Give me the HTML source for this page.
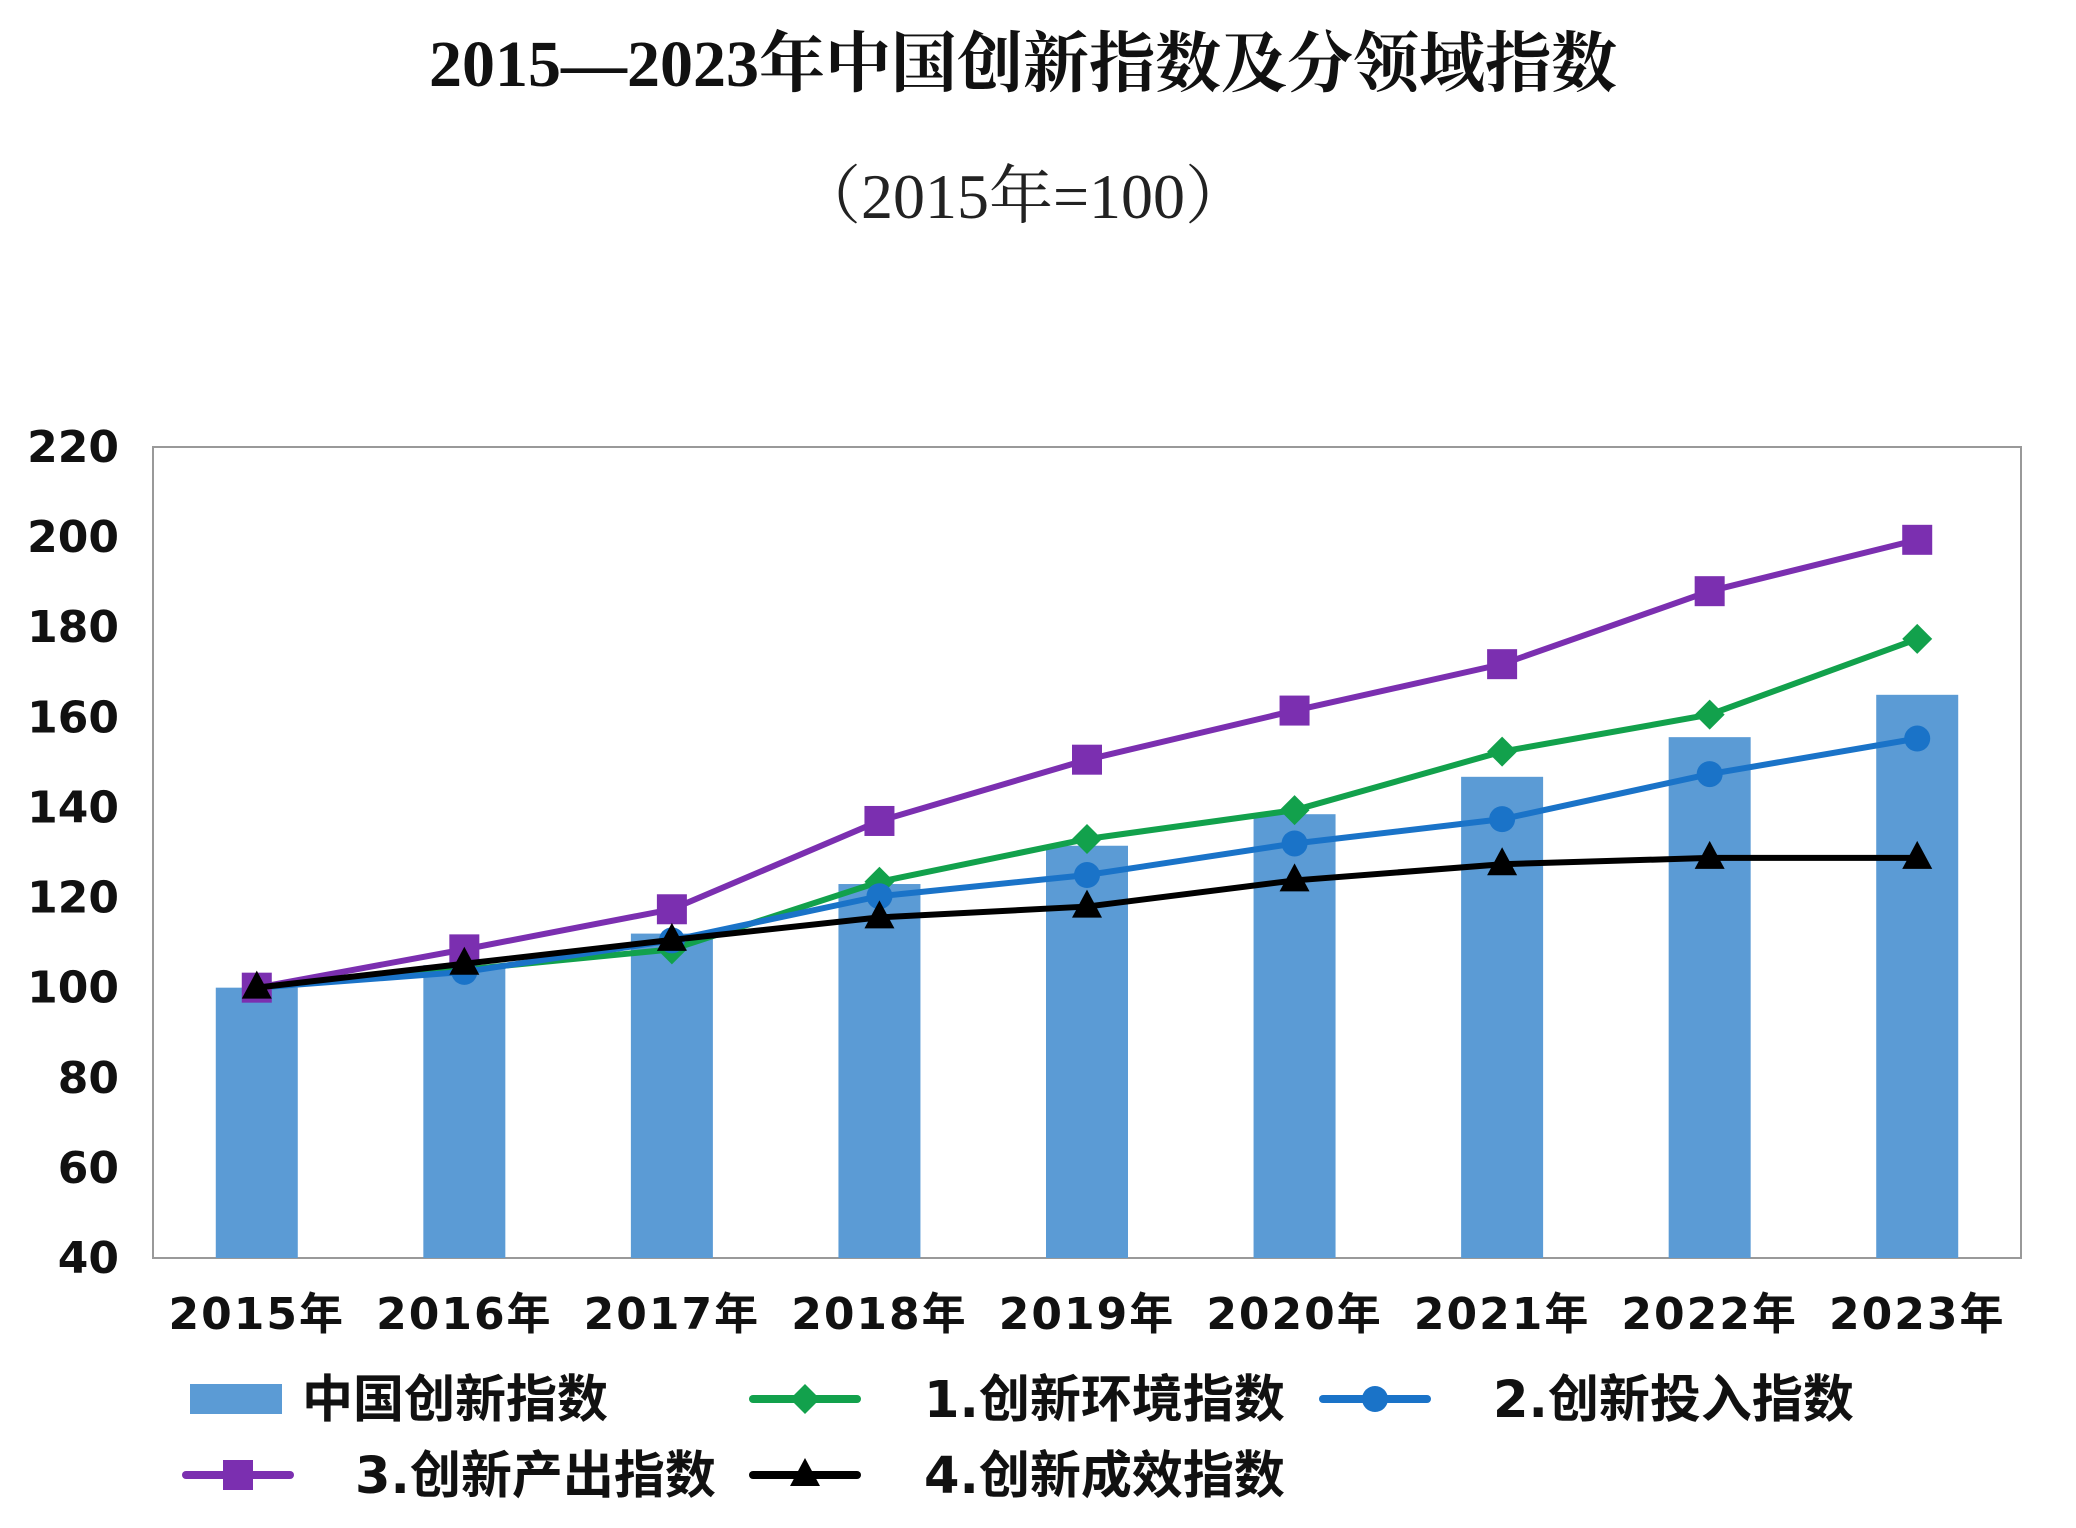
<!DOCTYPE html>
<html><head><meta charset="utf-8">
<style>
html,body{margin:0;padding:0;background:#fff;}
svg{display:block;}
</style></head>
<body>
<svg id="chart" width="2076" height="1528" viewBox="0 0 2076 1528" xmlns="http://www.w3.org/2000/svg">
<text x="1023" y="86" text-anchor="middle" font-family="'Liberation Serif','Noto Serif CJK SC',serif" font-weight="bold" font-size="66" fill="#111">2015—2023年中国创新指数及分领域指数</text>
<text x="1023" y="218" text-anchor="middle" font-family="'Liberation Serif','Noto Serif CJK SC',serif" font-size="64" fill="#222">（2015年=100）</text>
<rect x="153" y="447" width="1868" height="811" fill="#fff" stroke="#999" stroke-width="2"/>
<g id="bars"></g><g id="lines"></g><g id="yticks"></g><g id="xticks"></g><g id="legend"></g>
</svg>
<script>
const categories=['2015年','2016年','2017年','2018年','2019年','2020年','2021年','2022年','2023年'];
const totalIndex=[100,105,112,123,131.5,138.5,146.8,155.6,165];
const envIndex=[100,104,108.5,123.5,133,139.4,152.4,160.6,177.4];
const inputIndex=[100,103.5,110.5,120.3,125,132,137.4,147.4,155.3];
const outputIndex=[100,108.5,117.4,137,150.6,161.5,171.8,188,199.4];
const effectIndex=[100,105.3,110.6,115.6,118,123.8,127.4,128.8,128.8];
const yTicks=[40,60,80,100,120,140,160,180,200,220];

const NS='http://www.w3.org/2000/svg';
const L=153,R=2021,T=447,B=1258,YMIN=40,YMAX=220;
const bw=(R-L)/categories.length;
function xS(i){return L+bw*(i+0.5);}
function yS(v){return B-(v-YMIN)/(YMAX-YMIN)*(B-T);}
function mk(tag,attrs,parent){const e=document.createElementNS(NS,tag);for(const k in attrs)e.setAttribute(k,attrs[k]);parent.appendChild(e);return e;}
const font="'DejaVu Sans','Noto Sans CJK SC',sans-serif";

const gb=document.getElementById('bars');
totalIndex.forEach((v,i)=>{
  const r=mk('rect',{x:xS(i)-41,y:yS(v),width:82,height:B-yS(v),fill:'#5b9bd5'},gb);
  
  
});

const gl=document.getElementById('lines');
function marker(g,type,x,y,color){
  let m;
  if(type==='diamond')m=mk('polygon',{points:`${x},${y-15} ${x+15},${y} ${x},${y+15} ${x-15},${y}`,fill:color},g);
  else if(type==='circle')m=mk('circle',{cx:x,cy:y,r:13,fill:color},g);
  else if(type==='square')m=mk('rect',{x:x-15,y:y-15,width:30,height:30,fill:color},g);
  else m=mk('polygon',{points:`${x},${y-17} ${x+15},${y+11} ${x-15},${y+11}`,fill:color},g);
  return m;
}
const series=[
 {name:'env-index',data:envIndex,color:'#12a14c',m:'diamond'},
 {name:'input-index',data:inputIndex,color:'#1a73c8',m:'circle'},
 {name:'output-index',data:outputIndex,color:'#7b2fb0',m:'square'},
 {name:'effect-index',data:effectIndex,color:'#000',m:'triangle'}
];
series.forEach(s=>{
  const g=mk('g',{},gl);
  
  
  const p=mk('polyline',{points:s.data.map((v,i)=>xS(i)+','+yS(v)).join(' '),fill:'none',stroke:s.color,'stroke-width':6},g);
  
  
  s.data.forEach((v,i)=>{
    const m=marker(g,s.m,xS(i),yS(v),s.color);
    
    
  });
});

const gy=document.getElementById('yticks');
yTicks.forEach(t=>{
  const e=mk('text',{x:119,y:yS(t)+15,'text-anchor':'end','font-family':font,'font-weight':'bold','font-size':44,fill:'#111'},gy);
  e.textContent=t;
  
  
});
const gx=document.getElementById('xticks');
categories.forEach((c,i)=>{
  const e=mk('text',{x:xS(i),y:1329,'text-anchor':'middle','font-family':font,'font-weight':'bold','font-size':44,'letter-spacing':2,fill:'#111'},gx);
  e.textContent=c;
  
  
});

const lg=document.getElementById('legend');
const legendItems=[
 {label:'中国创新指数',type:'bar',sx:190,tx:302,y:1399},
 {label:'1.创新环境指数',type:'diamond',color:'#12a14c',sx:753,tx:924,y:1399},
 {label:'2.创新投入指数',type:'circle',color:'#1a73c8',sx:1323,tx:1493,y:1399},
 {label:'3.创新产出指数',type:'square',color:'#7b2fb0',sx:186,tx:355,y:1475},
 {label:'4.创新成效指数',type:'triangle',color:'#000',sx:753,tx:924,y:1475}
];
legendItems.forEach(it=>{
  const g=mk('g',{},lg);
  
  
  if(it.type==='bar')mk('rect',{x:it.sx,y:it.y-15,width:92,height:30,fill:'#5b9bd5'},g);
  else{
    mk('line',{x1:it.sx,y1:it.y,x2:it.sx+104,y2:it.y,stroke:it.color,'stroke-width':8,'stroke-linecap':'round'},g);
    marker(g,it.type,it.sx+52,it.y,it.color);
  }
  const t=mk('text',{x:it.tx,y:it.y+18,'font-family':font,'font-weight':'bold','font-size':51,fill:'#111'},g);
  t.textContent=it.label;
});
</script>
</body></html>
